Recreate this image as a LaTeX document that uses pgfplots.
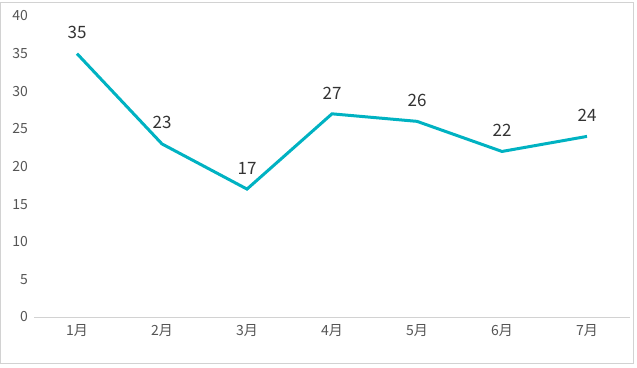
\documentclass[border=0pt]{standalone}
\usepackage{pgfplots}
\pgfplotsset{compat=1.18}
\usepackage{fontspec}
\setmainfont{Noto Sans CJK SC}
\definecolor{lineC}{RGB}{0,178,194}
\definecolor{tickC}{RGB}{85,85,85}
\definecolor{labC}{RGB}{51,51,51}
\definecolor{axC}{RGB}{210,210,210}
\begin{document}
\begin{tikzpicture}[x=1bp,y=1bp]
\useasboundingbox (-34.5,-50) rectangle (602.5,317);
\draw[color=axC,line width=1bp] (-33.5,-46) rectangle (598.5,314);
\begin{axis}[
  at={(0,0)}, anchor=south west,
  scale only axis, width=595bp, height=301bp,
  xmin=-0.5, xmax=6.5, ymin=0, ymax=40,
  xtick={0,...,6},
  xticklabels={1月,2月,3月,4月,5月,6月,7月},
  ytick={0,5,...,40},
  axis line style={draw=none},
  major tick length=0pt,
  tick label style={font=\fontsize{14bp}{16bp}\selectfont, text=tickC},
  yticklabel style={xshift=-3bp},
  xticklabel style={yshift=-4bp},
  /pgf/number format/assume math mode=true,
  clip=false,
  nodes near coords,
  every node near coord/.append style={font=\fontsize{17bp}{20bp}\selectfont, text=labC, yshift=10bp},
]
\draw[color=axC, line width=1bp] (axis cs:-0.5,0) -- (axis cs:6.5,0);
\addplot[color=lineC, line width=3bp, mark=none] coordinates {
(0,35) (1,23) (2,17) (3,27) (4,26) (5,22) (6,24)
};
\end{axis}
\end{tikzpicture}
\end{document}
